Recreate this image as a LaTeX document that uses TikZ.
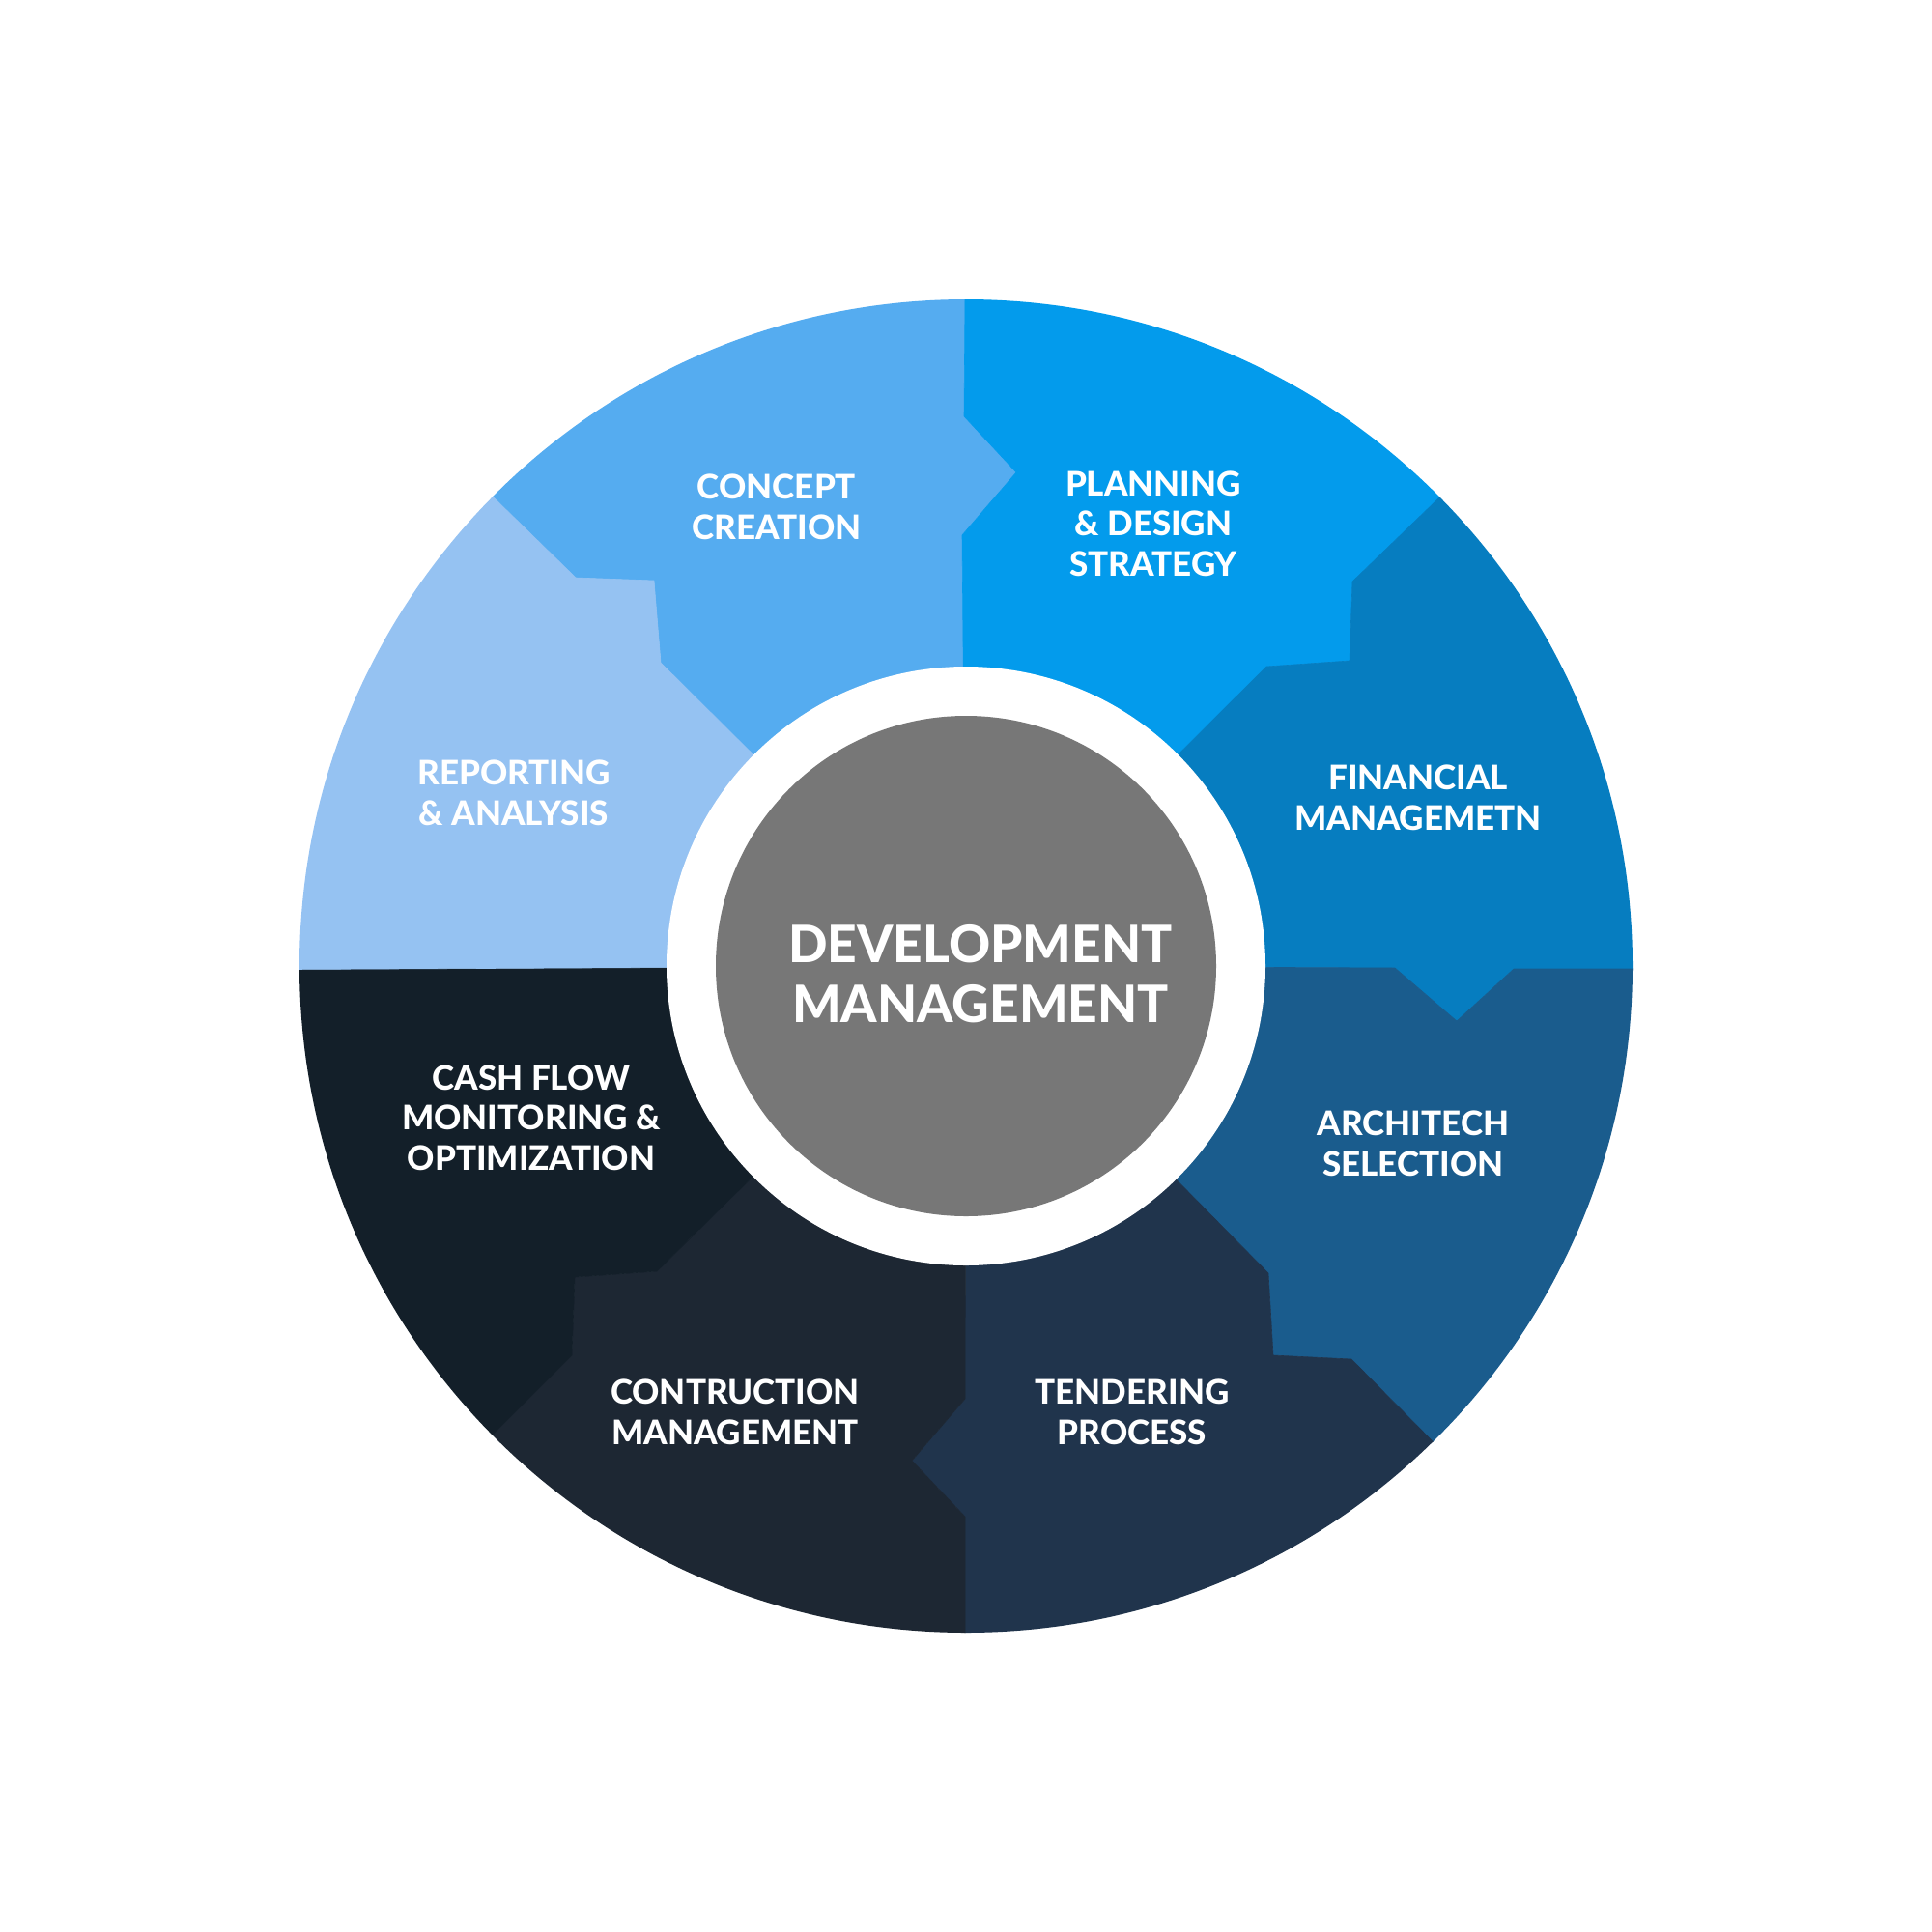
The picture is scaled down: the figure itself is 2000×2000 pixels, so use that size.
\documentclass[tikz,border=0pt]{standalone}
\usepackage{fontspec}
\setmainfont{Lato}[BoldFont={Lato Heavy}]
\definecolor{cConcept}{HTML}{55ACF0}
\definecolor{cPlanning}{HTML}{039BEC}
\definecolor{cFinancial}{HTML}{067DC0}
\definecolor{cArchitech}{HTML}{1A5C8D}
\definecolor{cTendering}{HTML}{20344C}
\definecolor{cContruction}{HTML}{1D2733}
\definecolor{cCashflow}{HTML}{131F29}
\definecolor{cReporting}{HTML}{95C2F2}
\definecolor{cCore}{HTML}{777777}
\begin{document}
\begin{tikzpicture}[x=1pt,y=-1pt,
  seg/.style={fill=#1,draw=#1,line width=0.6pt,line join=round},
  lbl/.style={text=white,align=center,inner sep=0pt,font=\bfseries\fontsize{35}{41.5}\selectfont},
  corelbl/.style={text=white,align=center,inner sep=0pt,font=\bfseries\fontsize{53.3}{62.5}\selectfont}]
\useasboundingbox (0,0) rectangle (2000,2000);
% centre
\coordinate (C) at (1000,1000);
% boundary top
\coordinate (b1a) at (996,554);
\coordinate (b1t) at (1052,489);
\coordinate (b1b) at (998,431);
\coordinate (b1o) at (999,310);
\coordinate (b1e) at (999,0);
% boundary NE
\coordinate (b2a) at (1311,690);
\coordinate (b2c) at (1397,684);
\coordinate (b2d) at (1400,602);
\coordinate (b2o) at (1488,517);
\coordinate (b2e) at (1850,167);
% boundary E
\coordinate (b3a) at (1444,1002);
\coordinate (b3t) at (1508,1057);
\coordinate (b3b) at (1567,1003);
\coordinate (b3e) at (2000,1003);
% boundary SE
\coordinate (b4a) at (1313,1318);
\coordinate (b4c) at (1318,1403);
\coordinate (b4d) at (1399,1407);
\coordinate (b4o) at (1480,1489);
\coordinate (b4e) at (1850,1860);
% boundary S
\coordinate (b5a) at (999,1448);
\coordinate (b5t) at (944,1512);
\coordinate (b5b) at (999,1570);
\coordinate (b5e) at (999,2000);
% boundary SW
\coordinate (b6a) at (680,1316);
\coordinate (b6c) at (595,1322);
\coordinate (b6d) at (592,1403);
\coordinate (b6o) at (509,1486);
\coordinate (b6e) at (150,1850);
% boundary W
\coordinate (b7e) at (0,1005);
% boundary NW
\coordinate (b8a) at (684,686);
\coordinate (b8c) at (677,601);
\coordinate (b8d) at (596,598);
\coordinate (b8o) at (510,514);
\coordinate (b8e) at (150,150);

\begin{scope}
\clip (C) circle[radius=690pt];
\path[seg=cConcept] (C) -- (b8a) -- (b8c) -- (b8d) -- (b8o) -- (b8e) -- (b1e) -- (b1o) -- (b1b) -- (b1t) -- (b1a) -- cycle;
\path[seg=cPlanning] (C) -- (b1a) -- (b1t) -- (b1b) -- (b1o) -- (b1e) -- (b2e) -- (b2o) -- (b2d) -- (b2c) -- (b2a) -- cycle;
\path[seg=cFinancial] (C) -- (b2a) -- (b2c) -- (b2d) -- (b2o) -- (b2e) -- (b3e) -- (b3b) -- (b3t) -- (b3a) -- cycle;
\path[seg=cArchitech] (C) -- (b3a) -- (b3t) -- (b3b) -- (b3e) -- (b4e) -- (b4o) -- (b4d) -- (b4c) -- (b4a) -- cycle;
\path[seg=cTendering] (C) -- (b4a) -- (b4c) -- (b4d) -- (b4o) -- (b4e) -- (b5e) -- (b5b) -- (b5t) -- (b5a) -- cycle;
\path[seg=cContruction] (C) -- (b5a) -- (b5t) -- (b5b) -- (b5e) -- (b6e) -- (b6o) -- (b6d) -- (b6c) -- (b6a) -- cycle;
\path[seg=cCashflow] (C) -- (b6a) -- (b6c) -- (b6d) -- (b6o) -- (b6e) -- (b7e) -- cycle;
\path[seg=cReporting] (C) -- (b7e) -- (b8e) -- (b8o) -- (b8d) -- (b8c) -- (b8a) -- cycle;
\end{scope}

\fill[white] (C) circle[radius=310pt];
\fill[cCore] (C) circle[radius=259pt];

\node[corelbl] (core) at (1015,1008) {DEVELOPMENT\\MANAGEMENT};
\node[lbl] (concept) at (804,525) {CONCEPT\\CREATION};
\node[lbl] (planning) at (1194,542) {PLANNING\\\&~DESIGN\\STRATEGY};
\node[lbl] (financial) at (1468,826) {FINANCIAL\\MANAGEMETN};
\node[lbl] (architech) at (1463,1184) {ARCHITECH\\SELECTION};
\node[lbl] (tendering) at (1172,1462) {TENDERING\\PROCESS};
\node[lbl] (contruction) at (761,1462) {CONTRUCTION\\MANAGEMENT};
\node[lbl] (cashflow) at (550,1157) {CASH FLOW\\MONITORING \&\\OPTIMIZATION};
\node[lbl] (reporting) at (532,821) {REPORTING\\\&~ANALYSIS};
\end{tikzpicture}
\end{document}
